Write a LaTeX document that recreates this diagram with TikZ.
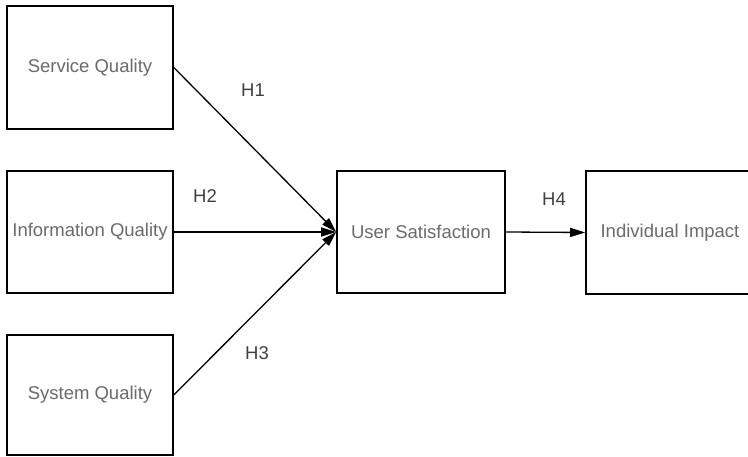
\documentclass[tikz,border=0pt]{standalone}
\usepackage{fontspec}
\setmainfont{Liberation Sans}
\usetikzlibrary{arrows.meta}
\begin{document}
\begin{tikzpicture}[x=1pt,y=-1pt,
  construct/.style={draw=black, line width=1.6pt, rectangle, inner sep=0pt,
    text=black!58, font=\fontsize{18.5}{22}\selectfont},
  hyplabel/.style={text=black!75, font=\fontsize{18.5}{22}\selectfont, inner sep=0pt},
  path/.style={draw=black, line width=1.3pt, -{Triangle[length=15pt,width=9pt]}}
]
\useasboundingbox (0,0) rectangle (748,457);
\fill[white] (0,0) rectangle (748,457);

% independent constructs
\node[construct, minimum width=166pt, minimum height=123pt] (sq) at (90,67.5) {Service Quality};
\node[construct, minimum width=166pt, minimum height=122pt] (iq) at (90,232) {Information Quality};
\node[construct, minimum width=166pt, minimum height=120pt] (syq) at (90,395) {System Quality};

% mediator
\node[construct, minimum width=168pt, minimum height=122pt] (us) at (421,232) {User Satisfaction};

% outcome, running past the right edge
\begin{scope}
  \clip (0,0) rectangle (748,457);
  \node[construct, minimum width=168pt, minimum height=123pt] (ii) at (670,232.5) {Individual Impact};
\end{scope}

% hypothesised paths
\draw[path] (sq.east) -- (us.west);
\draw[path] (iq.east) -- (us.west);
\draw[path] (syq.east) -- (us.west);
\draw[path] (us.east) -- (ii.west);

% hypothesis labels
\node[hyplabel] (h1) at (253,90) {H1};
\node[hyplabel] (h2) at (205,196) {H2};
\node[hyplabel] (h3) at (257,353) {H3};
\node[hyplabel] (h4) at (554,199) {H4};
\end{tikzpicture}
\end{document}
